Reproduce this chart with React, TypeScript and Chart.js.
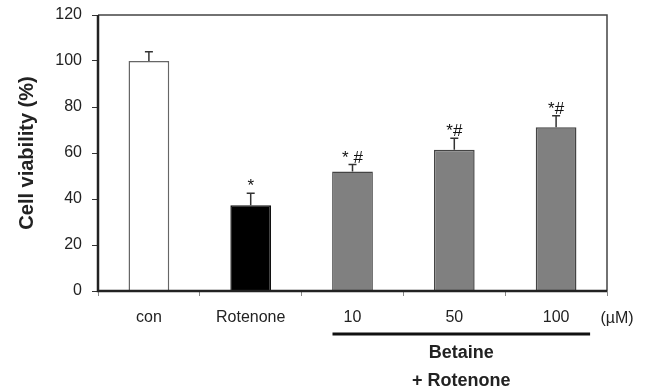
import React, { useEffect, useRef } from "react";
import { Chart, registerables } from "chart.js";

Chart.register(...registerables);

const categories = ["con", "Rotenone", "10", "50", "100"];
const viability = [100, 37.3, 52, 61.4, 71.2];
const errors = [4, 5.2, 3, 5, 5];
const marks = ["", "*", "* #", "*#", "*#"];
const yTicks = [0, 20, 40, 60, 80, 100, 120];
const unitLabel = "(µM)";
const groupLabel = ["Betaine", "+ Rotenone"];
const fills = ["#ffffff", "#000000", "#808080", "#808080", "#808080"];
const strokes = ["#666666", "#111111", "#444444", "#444444", "#444444"];

const FONT = "'Liberation Sans', Arial, sans-serif";

const extrasPlugin = {
  id: "extras",
  afterDatasetsDraw(chart: any) {
    const ctx = chart.ctx;
    const x = chart.scales.x;
    const y = chart.scales.y;
    const ca = chart.chartArea;
    ctx.save();
    // error bars
    ctx.strokeStyle = "#333";
    ctx.lineWidth = 1.5;
    viability.forEach((v, i) => {
      const px = x.getPixelForValue(i);
      const top = y.getPixelForValue(v + errors[i]);
      const base = y.getPixelForValue(v);
      ctx.beginPath();
      ctx.moveTo(px, base);
      ctx.lineTo(px, top);
      ctx.moveTo(px - 4, top);
      ctx.lineTo(px + 4, top);
      ctx.stroke();
      if (marks[i]) {
        ctx.fillStyle = "#111";
        ctx.font = `17px ${FONT}`;
        ctx.textAlign = "center";
        ctx.textBaseline = "alphabetic";
        ctx.fillText(marks[i], px, top - 2);
      }
    });
    // frame
    ctx.strokeStyle = "#444";
    ctx.lineWidth = 1.5;
    ctx.beginPath();
    ctx.moveTo(ca.left, ca.top);
    ctx.lineTo(ca.right, ca.top);
    ctx.lineTo(ca.right, ca.bottom);
    ctx.stroke();
    ctx.strokeStyle = "#222";
    ctx.lineWidth = 2.5;
    ctx.beginPath();
    ctx.moveTo(ca.left, ca.top);
    ctx.lineTo(ca.left, ca.bottom);
    ctx.lineTo(ca.right, ca.bottom);
    ctx.stroke();
    // group annotation
    const x0 = x.getPixelForValue(2) - 20;
    const x1 = x.getPixelForValue(4) + 34;
    const ly = ca.bottom + 43;
    ctx.strokeStyle = "#111";
    ctx.lineWidth = 3;
    ctx.beginPath();
    ctx.moveTo(x0, ly);
    ctx.lineTo(x1, ly);
    ctx.stroke();
    ctx.fillStyle = "#222";
    ctx.textAlign = "center";
    ctx.textBaseline = "middle";
    ctx.font = `16px ${FONT}`;
    ctx.fillText(unitLabel, ca.right + 10, ca.bottom + 28);
    ctx.font = `bold 18px ${FONT}`;
    const cx = (x0 + x1) / 2;
    ctx.fillText(groupLabel[0], cx, ca.bottom + 62);
    ctx.fillText(groupLabel[1], cx, ca.bottom + 90);
    ctx.restore();
  },
};

export default function App() {
  const ref = useRef<HTMLCanvasElement>(null);
  useEffect(() => {
    if (!ref.current) return;
    const chart = new Chart(ref.current, {
      type: "bar",
      data: {
        labels: categories,
        datasets: [
          {
            data: viability,
            backgroundColor: fills,
            borderColor: strokes,
            borderWidth: 1.5,
            categoryPercentage: 1,
            barPercentage: 0.4,
          },
        ],
      },
      options: {
        responsive: false,
        animation: false,
        layout: { padding: { top: 15, right: 39, left: 0, bottom: 0 } },
        plugins: { legend: { display: false }, tooltip: { enabled: false } },
        scales: {
          x: {
            grid: {
              offset: true,
              drawOnChartArea: false,
              tickLength: 5,
              color: "#888",
              lineWidth: 1,
            },
            border: { display: false },
            ticks: {
              color: "#222",
              font: { family: FONT, size: 16 },
              padding: 12,
              maxRotation: 0,
            },
            afterFit(scale: any) {
              scale.height = 98;
              scale.paddingLeft = 0;
              scale.paddingRight = 0;
            },
          },
          y: {
            min: 0,
            max: 120,
            afterBuildTicks(scale: any) {
              scale.ticks = yTicks.map((v) => ({ value: v }));
            },
            grid: {
              drawOnChartArea: false,
              tickLength: 6,
              color: "#333",
              lineWidth: 1,
            },
            border: { display: false },
            ticks: {
              color: "#222",
              font: { family: FONT, size: 16 },
              padding: 10,
            },
            title: {
              display: true,
              text: "Cell viability (%)",
              color: "#222",
              font: { family: FONT, size: 20, weight: "bold" },
              padding: { top: 15, bottom: 0 },
            },
            afterFit(scale: any) {
              scale.width = 98;
              scale.paddingTop = 0;
              scale.paddingBottom = 0;
            },
          },
        },
      },
      plugins: [extrasPlugin],
    });
    return () => chart.destroy();
  }, []);
  return (
    <div style={{ position: "fixed", left: 0, top: 0, width: 646, height: 389, background: "#fff" }}>
      <canvas ref={ref} width={646} height={389} />
    </div>
  );
}
